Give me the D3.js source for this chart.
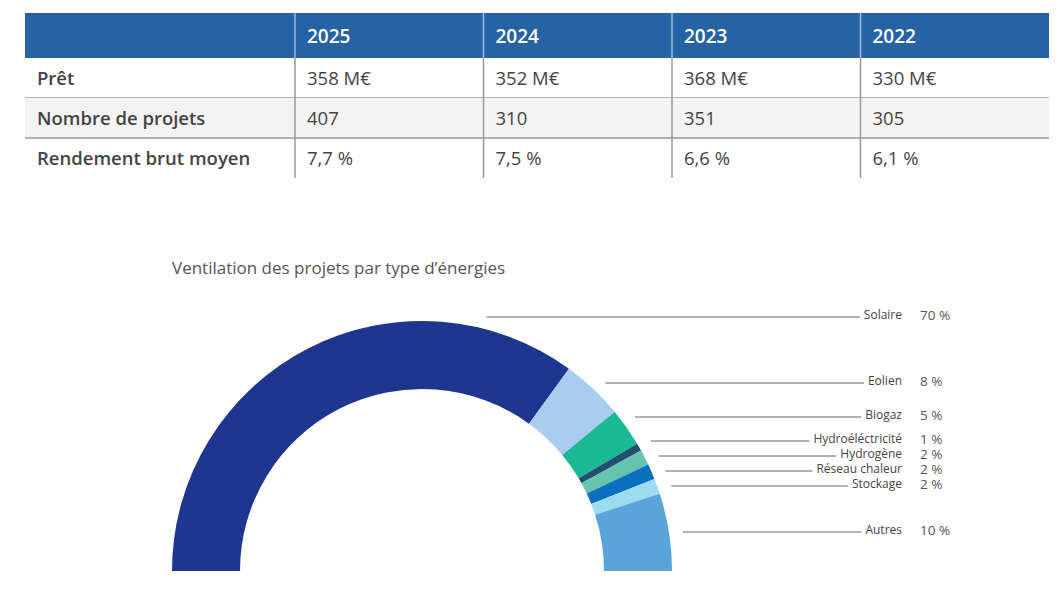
<!DOCTYPE html>
<html><head><meta charset="utf-8">
<script src="https://cdn.jsdelivr.net/npm/d3@7"></script>
<style>body{margin:0;background:#fff;font-family:"Open Sans",sans-serif;}</style>
</head><body>
<svg id="c" width="1062" height="592"></svg>
<script>
var years = ["2025","2024","2023","2022"];
var rowLabels = ["Prêt","Nombre de projets","Rendement brut moyen"];
var rowValues = [
  ["358 M€","352 M€","368 M€","330 M€"],
  ["407","310","351","305"],
  ["7,7 %","7,5 %","6,6 %","6,1 %"]
];
var energies = ["Solaire","Eolien","Biogaz","Hydroéléctricité","Hydrogène","Réseau chaleur","Stockage","Autres"];
var shares = [70,8,5,1,2,2,2,10];
var colors = ["#1f3590","#a8cdef","#1cb995","#22506f","#64c4ad","#0b6fbf","#9bdcf1","#5aa4db"];
var labelY = [315,381,415,439,454,469,484,530];

var svg = d3.select("#c");

// table
var tx = 25, labelW = 270, colW = 188.5, headH = 45, rowH = 40, ty = 13;
svg.append("rect").attr("x",tx).attr("y",ty).attr("width",labelW+colW*4).attr("height",headH).attr("fill","#2762a5");
years.forEach(function(y,i){
  svg.append("text").attr("x",tx+labelW+colW*i+12).attr("y",ty+30).text(y)
    .attr("fill","#fff").attr("font-size",19).attr("font-weight",600);
});
rowLabels.forEach(function(l,r){
  var y0 = ty+headH+rowH*r;
  if(r===1) svg.append("rect").attr("x",tx).attr("y",y0).attr("width",labelW+colW*4).attr("height",rowH).attr("fill","#f3f3f3");
  if(r<2) svg.append("line").attr("x1",tx).attr("x2",tx+labelW+colW*4).attr("y1",y0+rowH).attr("y2",y0+rowH).attr("stroke","#999").attr("stroke-width",1.5);
  svg.append("text").attr("x",tx+12).attr("y",y0+27).text(l).attr("fill","#444").attr("font-size",18.5).attr("font-weight",600);
  rowValues[r].forEach(function(v,i){
    svg.append("text").attr("x",tx+labelW+colW*i+12).attr("y",y0+27).text(v).attr("fill","#444").attr("font-size",18.5);
  });
});
for(var i=0;i<4;i++){
  var x = tx+labelW+colW*i;
  svg.append("line").attr("x1",x).attr("x2",x).attr("y1",ty).attr("y2",ty+headH).attr("stroke","#9fbad8").attr("stroke-width",1.5);
  svg.append("line").attr("x1",x).attr("x2",x).attr("y1",ty+headH).attr("y2",ty+headH+rowH*3).attr("stroke","#999").attr("stroke-width",1.5);
}

// chart
svg.append("text").attr("x",172).attr("y",274).text("Ventilation des projets par type d’énergies")
  .attr("fill","#555").attr("font-size",17);

var cx = 422, cy = 571, rOut = 250, rIn = 182;
var pie = d3.pie().sort(null).startAngle(-Math.PI/2).endAngle(Math.PI/2);
var arc = d3.arc().innerRadius(rIn).outerRadius(rOut);
var g = svg.append("g").attr("transform","translate("+cx+","+cy+")");
g.selectAll("path").data(pie(shares)).enter().append("path")
  .attr("d",arc).attr("fill",function(d,i){return colors[i];});

var textEnd = 902, valX = 920;
energies.forEach(function(e,i){
  var y = labelY[i];
  var t = svg.append("text").attr("x",textEnd).attr("y",y+4).attr("text-anchor","end")
    .text(e).attr("fill","#444").attr("font-size",12);
  var w = t.node().getComputedTextLength();
  var dy = cy - y, rr = rOut+14;
  var x1 = cx + Math.sqrt(Math.max(0, rr*rr - dy*dy));
  if (x1 < cx + 58) x1 = cx + 58;
  svg.append("line").attr("x1",x1).attr("x2",textEnd-w-4).attr("y1",y+2).attr("y2",y+2)
    .attr("stroke","#666").attr("stroke-width",1);
  svg.append("text").attr("x",valX).attr("y",y+5).text(shares[i]+" %").attr("fill","#555").attr("font-size",13.5);
});
</script>
</body></html>
